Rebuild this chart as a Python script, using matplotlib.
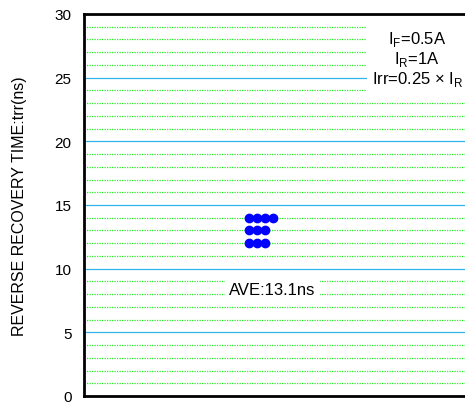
import numpy as np
import matplotlib.pyplot as plt
from matplotlib.ticker import MultipleLocator

plt.rcParams['font.family'] = ['Liberation Sans', 'DejaVu Sans']
plt.rcParams['mathtext.fontset'] = 'custom'
plt.rcParams['mathtext.rm'] = 'Liberation Sans'

# trr samples (ns), stacked by value
trr = [14, 14, 14, 14, 13, 13, 13, 12, 12, 12]
ave = 13.1
yticks = [0, 5, 10, 15, 20, 25, 30]

# spread repeated values sideways so each sample shows
x0 = 0.429
step = 0.02
xs = []
count = {}
for v in trr:
    k = count.get(v, 0)
    xs.append(x0 + k * step)
    count[v] = k + 1

fig = plt.figure(figsize=(4.65, 4.06), dpi=100)
ax = fig.add_axes([84 / 465, 9 / 406, 1 - 84 / 465 + 0.01, 382 / 406])

ax.set_xlim(0, 1)
ax.set_ylim(0, 30)
ax.set_yticks(yticks)
ax.yaxis.set_minor_locator(MultipleLocator(1))
ax.set_xticks([])
ax.tick_params(axis='y', which='both', length=0, pad=9, labelsize=11)

ax.grid(axis='y', which='minor', color='#22ee22', linestyle=(0, (1, 1)), linewidth=0.9)
ax.grid(axis='y', which='major', color='#33b5ea', linestyle='-', linewidth=0.9)
ax.set_axisbelow(True)

for side in ['left', 'top', 'bottom']:
    ax.spines[side].set_linewidth(2)
ax.spines['right'].set_visible(False)

ax.plot(xs, trr, 'o', color='#0000ff', markersize=6, zorder=3)

ax.set_ylabel('REVERSE RECOVERY TIME:trr(ns)', fontsize=11.5, labelpad=20)

ax.text(0.488, 8.4, f'AVE:{ave}ns', ha='center', va='center', fontsize=12,
        bbox=dict(facecolor='white', edgecolor='none', pad=3), zorder=4)

cond = ('I$_\\mathregular{F}$=0.5A\n'
        'I$_\\mathregular{R}$=1A\n'
        'Irr=0.25 × I$_\\mathregular{R}$')
ax.text(0.864, 26.5, cond, ha='center', va='center', fontsize=12,
        linespacing=1.1, multialignment='center',
        bbox=dict(facecolor='white', edgecolor='none', pad=3), zorder=4)

fig.savefig('out.png', dpi=100)
